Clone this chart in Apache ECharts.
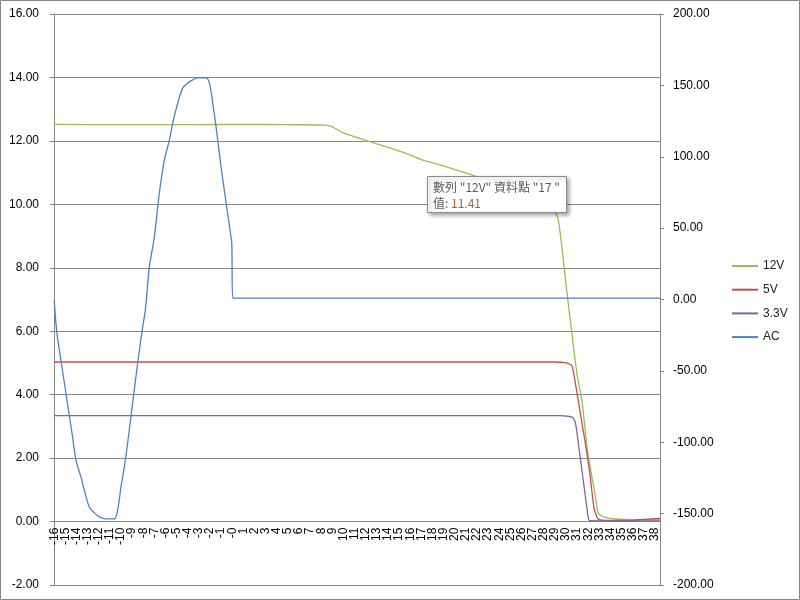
<!DOCTYPE html>
<html><head><meta charset="utf-8">
<script src="https://cdn.jsdelivr.net/npm/echarts@6/dist/echarts.min.js"></script>
<style>html,body{margin:0;padding:0;background:#fff}#c{width:800px;height:600px}</style>
</head><body><div id="c"></div>
<script>
// x tick labels (time, ms)
const tickLabels = ["-16","-15","-14","-13","-12","-11","-10","-9","-8","-7","-6","-5","-4","-3","-2","-1","-0",
  "1","2","3","4","5","6","7","8","9","10","11","12","13","14","15","16","17","18","19","20",
  "21","22","23","24","25","26","27","28","29","30","31","32","33","34","35","36","37","38"];
const seriesNames = ["12V","5V","3.3V","AC"];

// [time, volts] – primary axis
const v12 = [[-16,12.52],[-10,12.51],[0,12.52],[5,12.51],[8.3,12.5],[8.93,12.46],[9.92,12.26],[12.8,11.93],
  [15.68,11.6],[17,11.41],[18.47,11.27],[22.52,10.81],[25.85,10.31],[29.09,9.71],[29.45,9.17],[30.17,6.97],
  [30.53,5.93],[30.98,4.67],[31.43,3.81],[31.97,2.14],[32.6,0.88],[32.9,0.26],[33.35,0.15],[34.5,0.08],
  [36,0.06],[38.45,0.06]];
const v5 = [[-16,5.03],[29,5.03],[29.9,5.01],[30.2,4.98],[30.53,4.92],[30.8,4.45],[31.25,3.5],[31.7,2.55],
  [32.15,1.51],[32.51,0.44],[32.87,0.09],[33.5,0.04],[36,0.04],[37,0.07],[38.45,0.1]];
const v33 = [[-16,3.34],[29.45,3.34],[30.2,3.32],[30.62,3.28],[30.89,3.03],[31.16,2.33],[31.52,1.39],
  [31.88,0.44],[32.15,0.03],[38.45,0.02]];
// [time, volts] – secondary axis
const vAC = [[-16,-0.4],[-15.85,-16.5],[-15.7,-27],[-15.4,-42.4],[-14.95,-65.5],[-14.65,-80.9],[-14.35,-96.3],
  [-14.05,-112.4],[-13.6,-124.3],[-13.3,-133.4],[-12.85,-145.3],[-12.4,-149.5],[-11.95,-152.3],[-11.35,-153.7],
  [-10.6,-153.7],[-10.3,-147.5],[-10,-131.3],[-9.7,-117.3],[-9.4,-100.5],[-8.95,-72.5],[-8.5,-44.5],
  [-8.05,-19.3],[-7.81,-7.4],[-7.45,22.8],[-7,43.8],[-6.55,74.6],[-6.1,97.7],[-5.65,111.7],[-5.35,123.6],
  [-4.9,137.6],[-4.45,148.1],[-4,151.6],[-3.55,153.8],[-3.1,155.2],[-2.35,155.2],[-2.05,151.6],[-1.75,137.6],
  [-1.45,120.8],[-1,92.8],[-0.55,67.6],[-0.16,46.6],[-0.04,39.6],[0.05,1],[0.35,1],[38.45,1]];

const tipLine1 = '數列 "12V" 資料點 "17 "';
const tipLabel = '值: ';
const tipValue = '11.41';

const colors = ['#9bbb59','#c0504d','#8064a2','#4f81bd'];
const gridColor = '#868686';
const font = '"Liberation Sans", Arial, sans-serif';

const chart = echarts.init(document.getElementById('c'), null, {renderer:'canvas'});
const lineSeries = (name, data, yi, color, smooth) => ({
  name, type:'line', data, yAxisIndex: yi, symbol:'none', showSymbol:false, smooth: smooth || false,
  lineStyle:{color, width:1.3}, itemStyle:{color}, emphasis:{disabled:true}
});
// plot: top 14, bottom 585 -> zero of left axis sits 571*2/18 px above the bottom
const zeroOffset = -571 * 2 / 18;
chart.setOption({
  animation:false,
  textStyle:{fontFamily:font},
  color: colors,
  grid:{left:54, right:140, top:14, bottom:15, containLabel:false, outerBoundsMode:'none'},
  legend:{
    orient:'vertical', left:732, top:260, padding:0, itemWidth:26, itemHeight:2, itemGap:11.7, icon:'rect',
    data: seriesNames, textStyle:{fontSize:12, color:'#222', fontFamily:font}
  },
  xAxis:{
    type:'value', min:-16.02, max:38.45, splitNumber:55, position:'bottom', offset: zeroOffset,
    axisLine:{show:true, onZero:false, lineStyle:{color:gridColor}},
    axisTick:{show:false}, splitLine:{show:false},
    axisLabel:{rotate:90, fontSize:12, margin:6, color:'#000', hideOverlap:false,
      formatter: v => { const i = Math.round(v + 16); return (Math.abs(v - Math.round(v)) < 1e-6 && tickLabels[i] !== undefined) ? tickLabels[i] : ''; }}
  },
  yAxis:[
    {type:'value', position:'left', min:-2, max:16, interval:2,
     axisLine:{show:true, onZero:false, lineStyle:{color:gridColor}},
     axisTick:{show:true, length:4, inside:false, lineStyle:{color:gridColor}},
     splitLine:{show:true, lineStyle:{color:gridColor, width:1}},
     axisLabel:{fontSize:12, margin:15, color:'#000', formatter: v => v.toFixed(2)}},
    {type:'value', position:'right', min:-200, max:200, interval:50,
     axisLine:{show:true, onZero:false, lineStyle:{color:gridColor}},
     axisTick:{show:true, length:4, inside:false, lineStyle:{color:gridColor}},
     splitLine:{show:false},
     axisLabel:{fontSize:12, margin:13, color:'#000', formatter: v => v.toFixed(2)}}
  ],
  series:[
    lineSeries(seriesNames[0], v12, 0, colors[0], 0.2),
    lineSeries(seriesNames[1], v5, 0, colors[1], 0.2),
    lineSeries(seriesNames[2], v33, 0, colors[2], 0.2),
    lineSeries(seriesNames[3], vAC, 1, colors[3], 0.3)
  ],
  graphic:[
    {type:'rect', silent:true, z:-10, shape:{x:0.5, y:0.5, width:799, height:599},
     style:{fill:'none', stroke:gridColor, lineWidth:1}},
    {type:'rect', silent:true, z:100, shape:{x:427.5, y:176.5, width:139, height:36},
     style:{fill:'#fff', stroke:'#8c8c8c', lineWidth:1, shadowBlur:4, shadowOffsetX:2, shadowOffsetY:2, shadowColor:'rgba(0,0,0,0.35)'}},
    {type:'text', silent:true, z:101, x:433, y:187,
     style:{text:tipLine1, fontSize:12, fontFamily:'"Noto Sans CJK TC", sans-serif', fill:'#595959', verticalAlign:'middle'}},
    {type:'text', silent:true, z:101, x:433, y:203,
     style:{text:'{a|' + tipLabel + '}{b|' + tipValue + '}', verticalAlign:'middle',
       rich:{a:{fontSize:12, fontFamily:'"Noto Sans CJK TC", sans-serif', fill:'#595959', color:'#595959'},
             b:{fontSize:12, fontFamily:'"Noto Sans CJK TC", sans-serif', fill:'#a8652c', color:'#a8652c'}}}}
  ]
});
</script>
</body></html>
